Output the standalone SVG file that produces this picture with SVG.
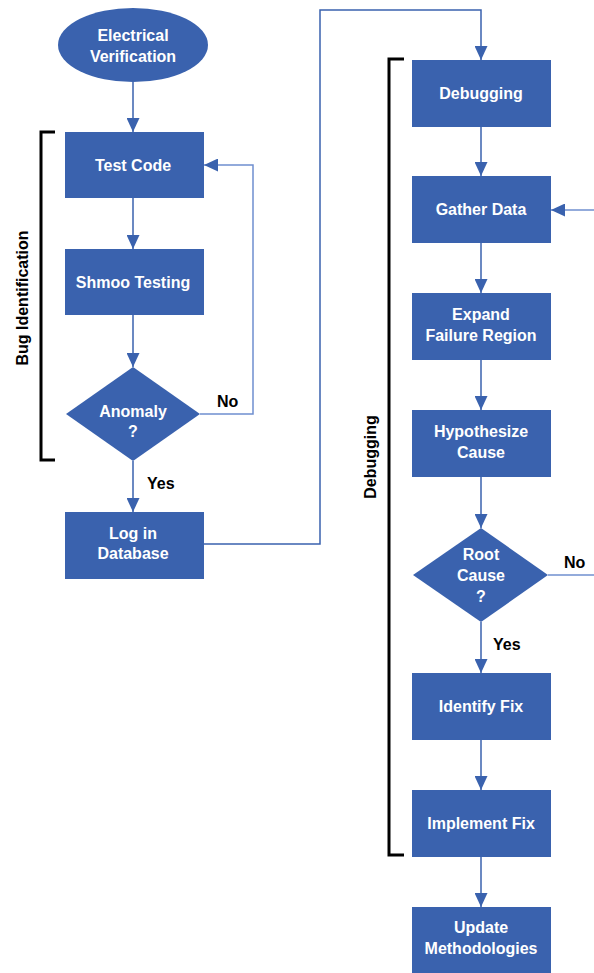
<svg xmlns="http://www.w3.org/2000/svg" width="594" height="973" viewBox="0 0 594 973">
<defs>
<marker id="ah" markerWidth="14" markerHeight="13" refX="14" refY="6.5" orient="auto" markerUnits="userSpaceOnUse">
<path d="M0,0 L14,6.5 L0,13 Z" fill="#3a62ae"/>
</marker>
</defs>
<style>
.n{fill:#3a62ae}
.t{fill:#ffffff;font-family:"Liberation Sans",Arial,sans-serif;font-weight:bold;font-size:16px;text-anchor:middle}
.l{fill:#000000;font-family:"Liberation Sans",Arial,sans-serif;font-weight:bold;font-size:16px}
.c{fill:none;stroke:#3a62ae;stroke-width:1.5}
.c2{fill:none;stroke:#6f8fcf;stroke-width:1.5}
.b{fill:none;stroke:#000000;stroke-width:3}
</style>
<rect width="594" height="973" fill="#ffffff"/>
<g id="connectors">
<line class="c" x1="133" y1="82" x2="133" y2="132" marker-end="url(#ah)"/>
<line class="c" x1="133" y1="198" x2="133" y2="249" marker-end="url(#ah)"/>
<line class="c" x1="133" y1="315" x2="133" y2="367" marker-end="url(#ah)"/>
<line class="c" x1="133" y1="461" x2="133" y2="512" marker-end="url(#ah)"/>
<polyline class="c2" points="200,414 253,414 253,165 204,165" marker-end="url(#ah)"/>
<polyline class="c" points="204,544 320,544 320,10 481,10 481,60" marker-end="url(#ah)"/>
<line class="c" x1="481" y1="127" x2="481" y2="176" marker-end="url(#ah)"/>
<line class="c" x1="481" y1="243" x2="481" y2="293" marker-end="url(#ah)"/>
<line class="c" x1="481" y1="360" x2="481" y2="410" marker-end="url(#ah)"/>
<line class="c" x1="481" y1="477" x2="481" y2="528" marker-end="url(#ah)"/>
<line class="c" x1="481" y1="622" x2="481" y2="673" marker-end="url(#ah)"/>
<line class="c" x1="481" y1="740" x2="481" y2="790" marker-end="url(#ah)"/>
<line class="c" x1="481" y1="857" x2="481" y2="907" marker-end="url(#ah)"/>
<line class="c2" x1="548" y1="575" x2="594" y2="575"/>
<line class="c2" x1="594" y1="210" x2="551" y2="210" marker-end="url(#ah)"/>
</g>
<g id="bracket-bug">
<polyline class="b" points="55,132 41,132 41,460 55,460"/>
<text class="l" text-anchor="middle" transform="translate(28,298) rotate(-90)">Bug Identification</text>
</g>
<g id="bracket-debug">
<polyline class="b" points="404,59 389,59 389,855 404,855"/>
<text class="l" text-anchor="middle" transform="translate(376,457) rotate(-90)">Debugging</text>
</g>
<g id="electrical-verification">
<ellipse class="n" cx="133" cy="45" rx="75" ry="37"/>
<text class="t" x="133" y="41">Electrical</text>
<text class="t" x="133" y="62">Verification</text>
</g>
<g id="test-code">
<rect class="n" x="65" y="132" width="139" height="66"/>
<text class="t" x="133" y="171">Test Code</text>
</g>
<g id="shmoo-testing">
<rect class="n" x="65" y="249" width="139" height="66"/>
<text class="t" x="133" y="288">Shmoo Testing</text>
</g>
<g id="anomaly">
<polygon class="n" points="133,367 200,414 133,461 66,414"/>
<text class="t" x="133" y="417">Anomaly</text>
<text class="t" x="133" y="437">?</text>
</g>
<g id="label-no-1"><text class="l" x="217" y="407">No</text></g>
<g id="label-yes-1"><text class="l" x="147" y="489">Yes</text></g>
<g id="log-database">
<rect class="n" x="65" y="512" width="139" height="67"/>
<text class="t" x="133" y="539">Log in</text>
<text class="t" x="133" y="559">Database</text>
</g>
<g id="debugging">
<rect class="n" x="412" y="60" width="139" height="67"/>
<text class="t" x="481" y="99">Debugging</text>
</g>
<g id="gather-data">
<rect class="n" x="412" y="176" width="139" height="67"/>
<text class="t" x="481" y="215">Gather Data</text>
</g>
<g id="expand-failure">
<rect class="n" x="412" y="293" width="139" height="67"/>
<text class="t" x="481" y="320">Expand</text>
<text class="t" x="481" y="341">Failure Region</text>
</g>
<g id="hypothesize">
<rect class="n" x="412" y="410" width="139" height="67"/>
<text class="t" x="481" y="437">Hypothesize</text>
<text class="t" x="481" y="458">Cause</text>
</g>
<g id="root-cause">
<polygon class="n" points="481,528 548,575 481,622 413,575"/>
<text class="t" x="481" y="560">Root</text>
<text class="t" x="481" y="581">Cause</text>
<text class="t" x="481" y="602">?</text>
</g>
<g id="label-no-2"><text class="l" x="564" y="568">No</text></g>
<g id="label-yes-2"><text class="l" x="493" y="650">Yes</text></g>
<g id="identify-fix">
<rect class="n" x="412" y="673" width="139" height="67"/>
<text class="t" x="481" y="712">Identify Fix</text>
</g>
<g id="implement-fix">
<rect class="n" x="412" y="790" width="139" height="67"/>
<text class="t" x="481" y="829">Implement Fix</text>
</g>
<g id="update-methodologies">
<rect class="n" x="412" y="907" width="139" height="66"/>
<text class="t" x="481" y="933">Update</text>
<text class="t" x="481" y="954">Methodologies</text>
</g>
</svg>
